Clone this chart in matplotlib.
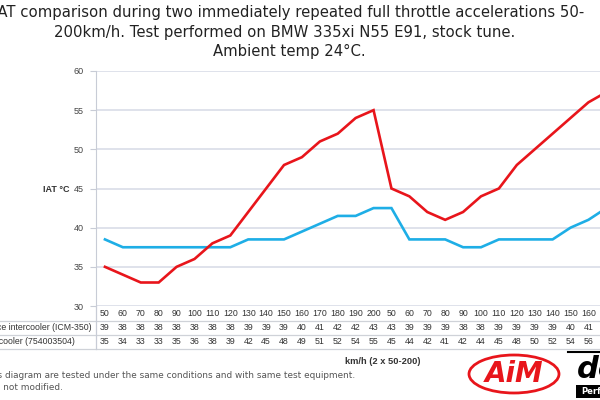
import numpy as np
import matplotlib
matplotlib.use("Agg")
import matplotlib.pyplot as plt
import matplotlib.transforms as mtransforms
from matplotlib.patches import Ellipse, Rectangle

speeds = [50, 60, 70, 80, 90, 100, 110, 120, 130, 140, 150, 160, 170, 180, 190, 200] * 2
do88 = [38.5, 37.5, 37.5, 37.5, 37.5, 37.5, 37.5, 37.5, 38.5, 38.5, 38.5, 39.5, 40.5, 41.5, 41.5, 42.5,
        42.5, 38.5, 38.5, 38.5, 37.5, 37.5, 38.5, 38.5, 38.5, 38.5, 40, 41, 42.5]
stock = [35, 34, 33, 33, 35, 36, 38, 39, 42, 45, 48, 49, 51, 52, 54, 55,
         45, 44, 42, 41, 42, 44, 45, 48, 50, 52, 54, 56, 57.3]
do88_tab = [39, 38, 38, 38, 38, 38, 38, 38, 39, 39, 39, 40, 41, 42, 42, 43,
            43, 39, 39, 39, 38, 38, 39, 39, 39, 39, 40, 41]
stock_tab = [35, 34, 33, 33, 35, 36, 38, 39, 42, 45, 48, 49, 51, 52, 54, 55,
             45, 44, 42, 41, 42, 44, 45, 48, 50, 52, 54, 56]
yticks = [30, 35, 40, 45, 50, 55, 60]

red = "#e8151b"
blue = "#1eaee6"
grid = "#d9dde8"
tfont = "Liberation Sans"

fig = plt.figure(figsize=(6, 4), dpi=100)
fig.patch.set_facecolor("white")
ax = fig.add_axes([96 / 600, 94 / 400, 573 / 600, 235 / 400])

x = np.arange(len(speeds))
ax.plot(x[:len(do88)], do88, color=blue, lw=1.9, solid_joinstyle="miter")
ax.plot(x[:len(stock)], stock, color=red, lw=1.9, solid_joinstyle="miter")

ax.set_xlim(-0.5, len(speeds) - 0.5)
ax.set_ylim(30, 60)
ax.set_yticks(yticks)
ax.set_xticks([])
ax.grid(axis="y", color=grid, lw=1.2)
ax.set_axisbelow(True)
for s in ["top", "right", "bottom"]:
    ax.spines[s].set_visible(False)
ax.spines["left"].set_color("#c8ccd6")
ax.tick_params(axis="y", length=4, color="#c8ccd6", labelsize=6.5, labelcolor="#444444", pad=5)
for lab in ax.get_yticklabels():
    lab.set_fontfamily(tfont)

# data table under the chart
trans = mtransforms.blended_transform_factory(ax.transData, ax.transAxes)
px = lambda p: (306 - p) / 235
for i, s in enumerate(speeds):
    ax.text(i, px(313), str(s), transform=trans, ha="center", va="center",
            fontsize=6.3, family=tfont, color="#333333", clip_on=False)
for i, v in enumerate(do88_tab):
    ax.text(i, px(327.5), str(v), transform=trans, ha="center", va="center",
            fontsize=6.3, family=tfont, color="#333333", clip_on=False)
for i, v in enumerate(stock_tab):
    ax.text(i, px(342), str(v), transform=trans, ha="center", va="center",
            fontsize=6.3, family=tfont, color="#333333", clip_on=False)

x0 = -96 / 573
for yy in [320.5, 335, 349]:
    ax.plot([x0, 1], [px(yy)] * 2, transform=ax.transAxes, color="#cfd2d8", lw=0.9, clip_on=False)
ax.plot([0, 0], [0, px(349)], transform=ax.transAxes, color="#c8ccd6", lw=0.9, clip_on=False)

ax.text((92 - 96) / 573, px(327.5), "do88 performance intercooler (ICM-350)", transform=ax.transAxes,
        ha="right", va="center", fontsize=6.3, family=tfont, color="#333333")
ax.text((75 - 96) / 573, px(342), "Original BMW intercooler (754003504)", transform=ax.transAxes,
        ha="right", va="center", fontsize=6.3, family=tfont, color="#333333")
ax.text(0.5, px(361), "km/h (2 x 50-200)", transform=ax.transAxes, ha="center", va="center",
        fontsize=6.7, family=tfont, weight="bold", color="#333333")

fig.text(56 / 600, 1 - 190 / 400, "IAT °C", ha="center", va="center", fontsize=6.5,
         family=tfont, weight="bold", color="#333333")

# title
tkw = dict(ha="center", va="center", fontsize=10.7, color="#222222")
fig.text(289 / 600, 1 - 13 / 400,
         "IAT comparison during two immediately repeated full throttle accelerations 50-", **tkw)
fig.text(285 / 600, 1 - 33 / 400, "200km/h. Test performed on BMW 335xi N55 E91, stock tune.", **tkw)
fig.text(289 / 600, 1 - 51 / 400, "Ambient temp 24°C.", **tkw)

# footnote
fig.text(355 / 600, 1 - 375 / 400,
         "All values in this diagram are tested under the same conditions and with same test equipment.",
         ha="right", va="center", fontsize=6.4, color="#555555")
fig.text(63 / 600, 1 - 388 / 400, "The car is stock and not modified.",
         ha="right", va="center", fontsize=6.4, color="#555555")

# logos
fig.patches.append(Ellipse((514 / 600, 1 - 374 / 400), 90 / 600, 38 / 400, transform=fig.transFigure,
                           fill=False, edgecolor=red, lw=2))
fig.text(514 / 600, 1 - 374 / 400, "AiM", ha="center", va="center", fontsize=20, weight="bold",
         style="italic", color=red)
fig.lines.append(plt.Line2D([568 / 600, 1], [1 - 352 / 400] * 2, transform=fig.transFigure, color="black", lw=1.5))
fig.text(577 / 600, 1 - 370 / 400, "do88", ha="left", va="center", fontsize=22, weight="bold",
         style="italic", color="black")
fig.patches.append(Rectangle((576 / 600, 1 - 398 / 400), 40 / 600, 13 / 400, transform=fig.transFigure,
                             facecolor="black", edgecolor="none"))
fig.text(581 / 600, 1 - 391 / 400, "Performance", ha="left", va="center", fontsize=6, weight="bold", color="white")

fig.savefig("out.png", dpi=100)
